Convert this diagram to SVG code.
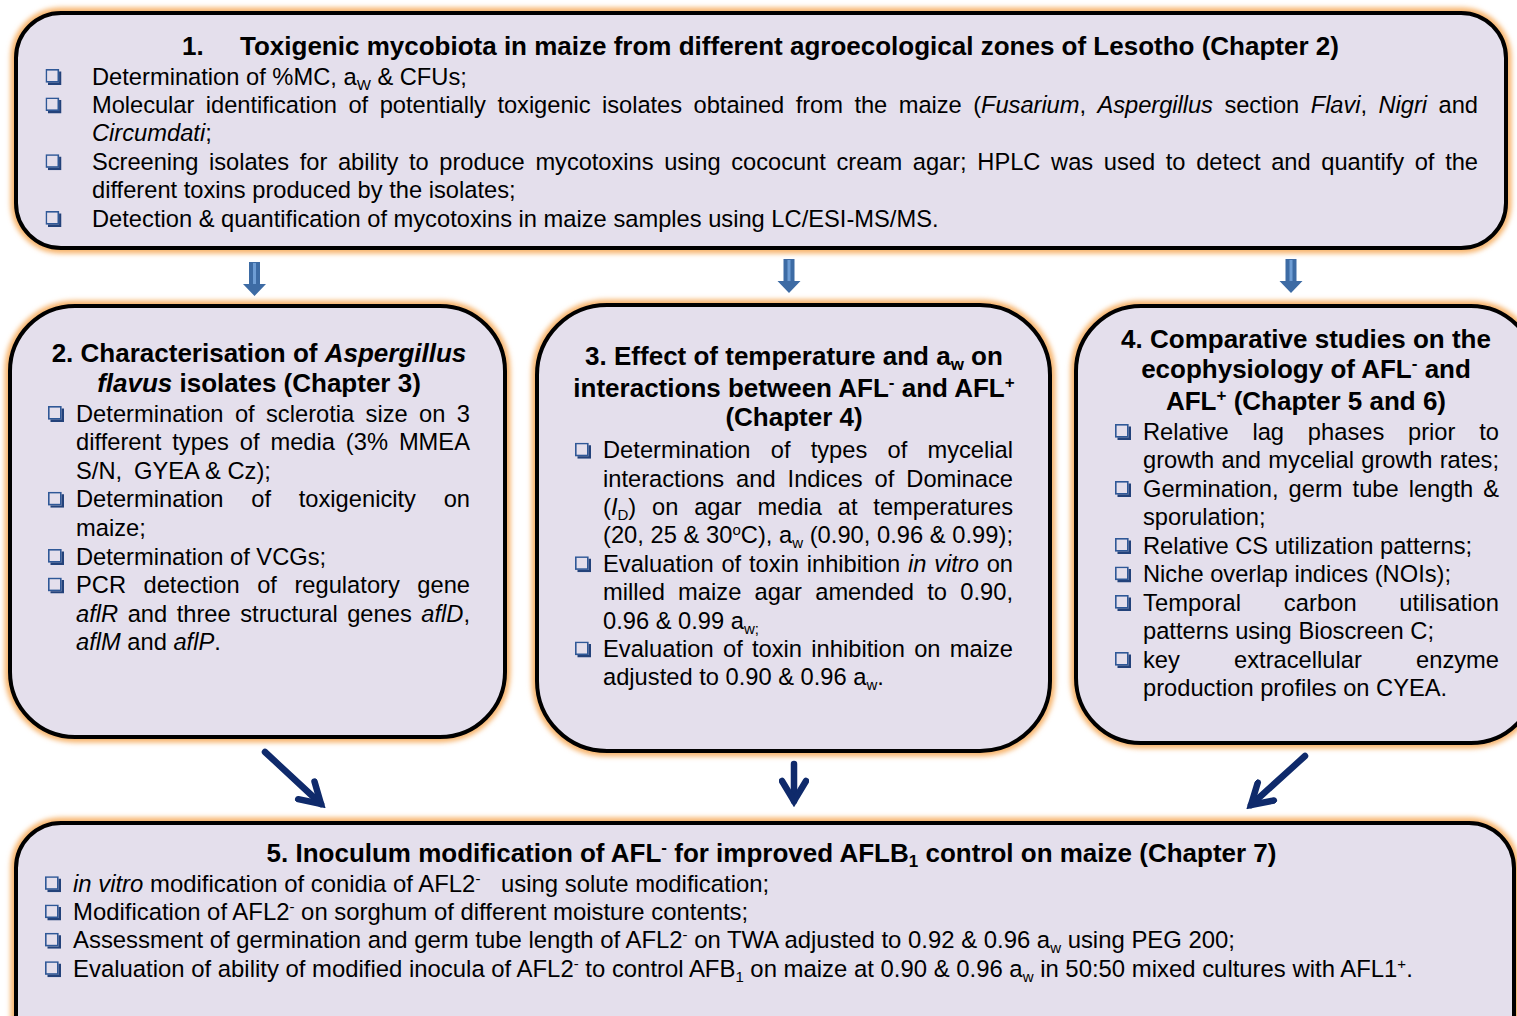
<svg xmlns="http://www.w3.org/2000/svg" width="1517" height="1016" viewBox="0 0 1517 1016">
<defs>
<style>
.halo{fill:none;stroke:#F7B46C;stroke-width:11;filter:url(#soft)}
.box{fill:#E4DFEC;stroke:#000;stroke-width:4}
text{font-family:"Liberation Sans",Arial,sans-serif;fill:#000}
.b{font-size:23.7px}
.b5{font-size:23.9px}
.h{font-size:26px;font-weight:bold;text-anchor:middle}
.hl{font-size:26px;font-weight:bold}
.i{font-style:italic}
.sb{font-size:15px;baseline-shift:-5px}
.sp{font-size:15px;baseline-shift:8px}
.hsb{font-size:17px;baseline-shift:-5px}
.hsp{font-size:17px;baseline-shift:9px}
.blk{fill:#3D6BA4}
.stripe{fill:#6E9DD4}
.dg{fill:none;stroke:#0F2A6B;stroke-width:6.5;stroke-linecap:round}
</style>
<filter id="soft" x="-10%" y="-10%" width="120%" height="120%"><feGaussianBlur stdDeviation="2.5"/></filter>
<symbol id="bul" viewBox="0 0 16 16" width="16" height="16">
<rect x="0.8" y="0.8" width="12" height="12" fill="none" stroke="#2F5897" stroke-width="1.6"/>
<path d="M13.6 2.5H16V16H2.5V13.6H13.6Z" fill="#23427A"/>
</symbol>
<marker id="vh" markerUnits="userSpaceOnUse" viewBox="0 0 30 30" refX="24" refY="15" markerWidth="30" markerHeight="30" orient="auto">
<path d="M4,3 L24,15 L4,27" fill="none" stroke="#0F2A6B" stroke-width="6.5" stroke-linecap="round" stroke-linejoin="miter" stroke-miterlimit="6"/>
</marker>
</defs>

<!-- 1: field survey of toxigenic mycobiota -->
<g id="node1">
<rect class="halo" x="16" y="13" width="1490" height="235" rx="45"/>
<rect class="box" x="16" y="13" width="1490" height="235" rx="45"/>
<text class="hl" x="182" y="55">1.</text>
<text class="hl" x="240" y="55">Toxigenic mycobiota in maize from different agroecological zones of Lesotho (Chapter 2)</text>
<use href="#bul" x="45.5" y="69"/>
<use href="#bul" x="45.5" y="97.4"/>
<use href="#bul" x="45.5" y="154.2"/>
<use href="#bul" x="45.5" y="211"/>
<text class="b" x="92" y="84.5">Determination of %MC, a<tspan class="sb">W</tspan> &amp; CFUs;</text>
<text class="b" x="92" y="112.9" textLength="1386" lengthAdjust="spacing" style="word-spacing:4.96px">Molecular identification of potentially toxigenic isolates obtained from the maize (<tspan class="i">Fusarium</tspan>, <tspan class="i">Aspergillus</tspan> section <tspan class="i">Flavi</tspan>, <tspan class="i">Nigri</tspan> and</text>
<text class="b" x="92" y="141.3"><tspan class="i">Circumdati</tspan>;</text>
<text class="b" x="92" y="169.7" textLength="1386" lengthAdjust="spacing" style="word-spacing:4.19px">Screening isolates for ability to produce mycotoxins using cococunt cream agar; HPLC was used to detect and quantify of the</text>
<text class="b" x="92" y="198.1">different toxins produced by the isolates;</text>
<text class="b" x="92" y="226.5">Detection &amp; quantification of mycotoxins in maize samples using LC/ESI-MS/MS.</text>
</g>

<!-- 2: A. flavus isolates -->
<g id="node2">
<rect class="halo" x="10" y="306" width="495" height="431" rx="65"/>
<rect class="box" x="10" y="306" width="495" height="431" rx="65"/>
<text class="h" x="259" y="361.7">2. Characterisation of <tspan class="i">Aspergillus</tspan></text>
<text class="h" x="259" y="391.7"><tspan class="i">flavus</tspan> isolates (Chapter 3)</text>
<use href="#bul" x="48" y="406"/>
<use href="#bul" x="48" y="491.8"/>
<use href="#bul" x="48" y="549"/>
<use href="#bul" x="48" y="577.6"/>
<text class="b" x="76" y="421.5" textLength="394" lengthAdjust="spacing" style="word-spacing:4.77px">Determination of sclerotia size on 3</text>
<text class="b" x="76" y="450.1" textLength="394" lengthAdjust="spacing" style="word-spacing:4.25px">different types of media (3% MMEA</text>
<text class="b" y="478.7"><tspan x="76">S/N,</tspan><tspan x="134">GYEA &amp; Cz);</tspan></text>
<text class="b" x="76" y="507.3" textLength="394" lengthAdjust="spacing" style="word-spacing:21.1px">Determination of toxigenicity on</text>
<text class="b" x="76" y="535.9">maize;</text>
<text class="b" x="76" y="564.5">Determination of VCGs;</text>
<text class="b" x="76" y="593.1" textLength="394" lengthAdjust="spacing" style="word-spacing:10.9px">PCR detection of regulatory gene</text>
<text class="b" x="76" y="621.7" textLength="394" lengthAdjust="spacing" style="word-spacing:2.93px"><tspan class="i">aflR</tspan> and three structural genes <tspan class="i">aflD</tspan>,</text>
<text class="b" x="76" y="650.3"><tspan class="i">aflM</tspan> and <tspan class="i">aflP</tspan>.</text>
</g>

<!-- 3: temperature and water activity interactions -->
<g id="node3">
<rect class="halo" x="537" y="305" width="513" height="446" rx="70"/>
<rect class="box" x="537" y="305" width="513" height="446" rx="70"/>
<text class="h" x="794" y="365">3. Effect of temperature and a<tspan class="hsb">w</tspan> on</text>
<text class="h" x="794" y="396.5">interactions between AFL<tspan class="hsp">-</tspan> and AFL<tspan class="hsp">+</tspan></text>
<text class="h" x="794" y="426">(Chapter 4)</text>
<use href="#bul" x="575" y="442.7"/>
<use href="#bul" x="575" y="556.3"/>
<use href="#bul" x="575" y="641.5"/>
<text class="b" x="603" y="458.2" textLength="410" lengthAdjust="spacing" style="word-spacing:13.6px">Determination of types of mycelial</text>
<text class="b" x="603" y="486.6" textLength="410" lengthAdjust="spacing" style="word-spacing:5.36px">interactions and Indices of Dominace</text>
<text class="b" x="603" y="515" textLength="410" lengthAdjust="spacing" style="word-spacing:9.2px">(<tspan class="i">I</tspan><tspan class="sb">D</tspan>) on agar media at temperatures</text>
<text class="b" x="603" y="543.4" textLength="410" lengthAdjust="spacing">(20, 25 &amp; 30<tspan class="sp">o</tspan>C), a<tspan class="sb">w</tspan> (0.90, 0.96 &amp; 0.99);</text>
<text class="b" x="603" y="571.8" textLength="410" lengthAdjust="spacing" style="word-spacing:1.14px">Evaluation of toxin inhibition <tspan class="i">in vitro</tspan> on</text>
<text class="b" x="603" y="600.2" textLength="410" lengthAdjust="spacing" style="word-spacing:6.65px">milled maize agar amended to 0.90,</text>
<text class="b" x="603" y="628.6">0.96 &amp; 0.99 a<tspan class="sb">w;</tspan></text>
<text class="b" x="603" y="657" textLength="410" lengthAdjust="spacing" style="word-spacing:2.69px">Evaluation of toxin inhibition on maize</text>
<text class="b" x="603" y="685.4">adjusted to 0.90 &amp; 0.96 a<tspan class="sb">w</tspan>.</text>
</g>

<!-- 4: ecophysiology of AFL- and AFL+ strains -->
<g id="node4">
<rect class="halo" x="1076" y="306" width="460" height="437" rx="65"/>
<rect class="box" x="1076" y="306" width="460" height="437" rx="65"/>
<text class="h" x="1306" y="348">4. Comparative studies on the</text>
<text class="h" x="1306" y="378">ecophysiology of AFL<tspan class="hsp">-</tspan> and</text>
<text class="h" x="1306" y="410">AFL<tspan class="hsp">+</tspan> (Chapter 5 and 6)</text>
<use href="#bul" x="1115" y="424"/>
<use href="#bul" x="1115" y="481"/>
<use href="#bul" x="1115" y="538"/>
<use href="#bul" x="1115" y="566.5"/>
<use href="#bul" x="1115" y="595"/>
<use href="#bul" x="1115" y="652"/>
<text class="b" x="1143" y="439.5" textLength="356" lengthAdjust="spacing" style="word-spacing:17.2px">Relative lag phases prior to</text>
<text class="b" x="1143" y="468" textLength="356" lengthAdjust="spacing" style="word-spacing:0.76px">growth and mycelial growth rates;</text>
<text class="b" x="1143" y="496.5" textLength="356" lengthAdjust="spacing" style="word-spacing:3.39px">Germination, germ tube length &amp;</text>
<text class="b" x="1143" y="525">sporulation;</text>
<text class="b" x="1143" y="553.5">Relative CS utilization patterns;</text>
<text class="b" x="1143" y="582">Niche overlap indices (NOIs);</text>
<text class="b" x="1143" y="610.5" textLength="356" lengthAdjust="spacing" style="word-spacing:35.8px">Temporal carbon utilisation</text>
<text class="b" x="1143" y="639">patterns using Bioscreen C;</text>
<text class="b" x="1143" y="667.5" textLength="356" lengthAdjust="spacing" style="word-spacing:47.6px">key extracellular enzyme</text>
<text class="b" x="1143" y="696">production profiles on CYEA.</text>
</g>

<!-- 5: inoculum modification -->
<g id="node5">
<rect class="halo" x="16" y="823" width="1498" height="240" rx="45"/>
<rect class="box" x="16" y="823" width="1498" height="240" rx="45"/>
<text class="h" x="771.5" y="861.7">5. Inoculum modification of AFL<tspan class="hsp">-</tspan> for improved AFLB<tspan class="hsb">1</tspan> control on maize (Chapter 7)</text>
<use href="#bul" x="45" y="876.2"/>
<use href="#bul" x="45" y="904.5"/>
<use href="#bul" x="45" y="932.8"/>
<use href="#bul" x="45" y="961.2"/>
<text class="b5" y="891.7"><tspan x="73"><tspan class="i">in vitro</tspan> modification of conidia of AFL2<tspan class="sp">-</tspan></tspan><tspan x="501">using solute modification;</tspan></text>
<text class="b5" x="73" y="920">Modification of AFL2<tspan class="sp">-</tspan> on sorghum of different moisture contents;</text>
<text class="b5" x="73" y="948.3">Assessment of germination and germ tube length of AFL2<tspan class="sp">-</tspan> on TWA adjusted to 0.92 &amp; 0.96 a<tspan class="sb">w</tspan> using PEG 200;</text>
<text class="b5" x="73" y="976.7">Evaluation of ability of modified inocula of AFL2<tspan class="sp">-</tspan> to control AFB<tspan class="sb">1</tspan> on maize at 0.90 &amp; 0.96 a<tspan class="sb">w</tspan> in 50:50 mixed cultures with AFL1<tspan class="sp">+</tspan>.</text>
</g>

<!-- flow between the studies -->
<g id="connectors">
<path class="blk" d="M249,262H260V284H266L254.5,296L243,284H249Z"/>
<rect class="stripe" x="253" y="263" width="3" height="21"/>
<path class="blk" d="M783.5,259H794.5V281H800.5L789,293L777.5,281H783.5Z"/>
<rect class="stripe" x="787.5" y="260" width="3" height="21"/>
<path class="blk" d="M1285.5,259H1296.5V281H1302.5L1291,293L1279.5,281H1285.5Z"/>
<rect class="stripe" x="1289.5" y="260" width="3" height="21"/>
<path class="dg" d="M265,752L321,804" marker-end="url(#vh)"/>
<path class="dg" d="M794,764L794,801" marker-end="url(#vh)"/>
<path class="dg" d="M1305,756L1251,805" marker-end="url(#vh)"/>
</g>
</svg>
